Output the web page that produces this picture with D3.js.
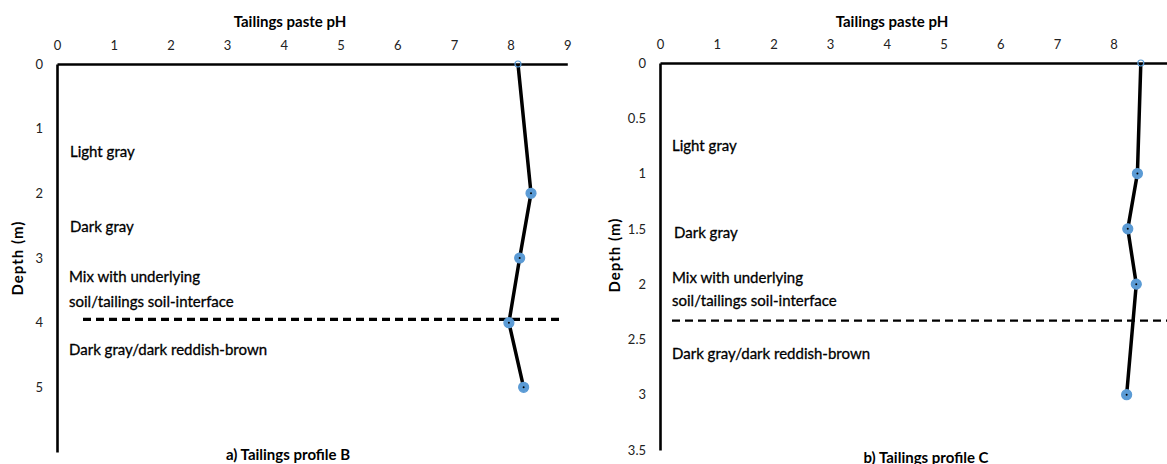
<!DOCTYPE html>
<html>
<head>
<meta charset="utf-8">
<script src="https://cdn.jsdelivr.net/npm/d3@7"></script>
<style>
  body { margin: 0; background: #fff; }
  text { font-family: Lato, "Open Sans", sans-serif; }
</style>
</head>
<body>
<div id="myDiv"></div>
<script>
// pH ticks shared by both panels
var phTicks = [0, 1, 2, 3, 4, 5, 6, 7, 8, 9];

// profile B
var depthB = [0, 2, 3, 4, 5];
var phB = [8.13, 8.36, 8.16, 7.97, 8.23];
var depthTicksB = [0, 1, 2, 3, 4, 5];
var interfaceB = 3.95;

// profile C
var depthC = [0, 1, 1.5, 2, 3];
var phC = [8.48, 8.42, 8.25, 8.4, 8.23];
var depthTicksC = [0, 0.5, 1, 1.5, 2, 2.5, 3, 3.5];
var interfaceC = 2.33;

var layerNames = ["Light gray", "Dark gray", "Mix with underlying", "soil/tailings soil-interface", "Dark gray/dark reddish-brown"];

var w = 1167;
var h = 464;

var svg = d3.select("#myDiv")
    .append("svg")
    .attr("width", w)
    .attr("height", h);

/*
  draws one profile panel
*/
function drawPanel(p) {
  var x = d3.scaleLinear().domain([0, 9]).range([p.left, p.left + 9 * 56.7]);
  var y = d3.scaleLinear().domain([0, p.maxDepth]).range([p.top, p.bottom]);
  var g = svg.append("g");

  // top axis
  var xAxis = g.append("g")
      .attr("transform", "translate(0," + p.top + ")")
      .call(d3.axisTop(x).tickValues(phTicks).tickFormat(d3.format("~g")).tickSize(0).tickPadding(14));
  xAxis.select(".domain").attr("stroke", "#000").attr("stroke-width", 2.6);
  xAxis.selectAll("text").attr("font-size", 13).attr("fill", "#222").style("font-family", "Lato");

  // left axis
  var yAxis = g.append("g")
      .attr("transform", "translate(" + p.left + ",0)")
      .call(d3.axisLeft(y).tickValues(p.depthTicks).tickFormat(d3.format("~g")).tickSize(0).tickPadding(14));
  yAxis.select(".domain").attr("stroke", "#000").attr("stroke-width", 2.6);
  yAxis.selectAll("text").attr("font-size", 13).attr("fill", "#222").style("font-family", "Lato");

  g.append("text")
      .attr("x", p.titleX)
      .attr("y", 27)
      .attr("text-anchor", "middle")
      .attr("font-size", 15)
      .attr("font-weight", "bold")
      .text("Tailings paste pH");

  g.append("text")
      .attr("transform", "translate(" + p.yTitleX + "," + p.yTitleY + ") rotate(-90)")
      .attr("text-anchor", "middle")
      .attr("font-size", 15)
      .attr("font-weight", "bold")
      .attr("letter-spacing", 1)
      .text("Depth (m)");

  // interface line
  g.append("line")
      .attr("x1", p.dashX1)
      .attr("x2", p.dashX2)
      .attr("y1", y(p.interfaceDepth))
      .attr("y2", y(p.interfaceDepth))
      .attr("stroke", "#000")
      .attr("stroke-width", p.dashW)
      .attr("stroke-dasharray", p.dash);

  // layer labels
  for (var i = 0; i < layerNames.length; i++) {
    g.append("text")
        .attr("x", p.labelX[i])
        .attr("y", p.labelY[i])
        .attr("font-size", 15)
        .attr("fill", "#000")
        .attr("stroke", "#000")
        .attr("stroke-width", 0.3)
        .text(layerNames[i]);
  }

  var pts = p.depth.map(function(d, i) { return {d: d, ph: p.ph[i]}; });

  var line = d3.line()
      .x(function(d) { return x(d.ph); })
      .y(function(d) { return y(d.d); });

  g.append("path")
      .datum(pts)
      .attr("d", line)
      .attr("fill", "none")
      .attr("stroke", "#000")
      .attr("stroke-width", 3.5);

  g.selectAll(".mk")
   .data(pts)
   .enter()
   .append("circle")
   .attr("cx", function(d) { return x(d.ph); })
   .attr("cy", function(d) { return y(d.d); })
   .attr("r", function(d, i) { return i == 0 ? 3 : 5; })
   .attr("fill", function(d, i) { return i == 0 ? "none" : "#5b9bd5"; })
   .attr("stroke", "#5b9bd5")
   .attr("stroke-width", 1.2);

  g.selectAll(".dot")
   .data(pts.slice(1))
   .enter()
   .append("circle")
   .attr("cx", function(d) { return x(d.ph); })
   .attr("cy", function(d) { return y(d.d); })
   .attr("r", 1)
   .attr("fill", "#000");

  g.append("text")
      .attr("x", p.captionX)
      .attr("y", p.captionY)
      .attr("text-anchor", "middle")
      .attr("font-size", 15)
      .attr("font-weight", "bold")
      .text(p.caption);
}

drawPanel({
  left: 57, top: 64, bottom: 452, maxDepth: 6,
  depth: depthB, ph: phB, depthTicks: depthTicksB,
  interfaceDepth: interfaceB, dashX1: 83, dashX2: 560, dashW: 3.2, dash: "8,5",
  titleX: 290, yTitleX: 23, yTitleY: 258,
  labelX: [70, 70, 69, 69, 69],
  labelY: [157, 232, 282, 307, 355],
  caption: "a) Tailings profile B", captionX: 288, captionY: 460
});

drawPanel({
  left: 660, top: 63, bottom: 450, maxDepth: 3.5,
  depth: depthC, ph: phC, depthTicks: depthTicksC,
  interfaceDepth: interfaceC, dashX1: 672, dashX2: 1167, dashW: 2.2, dash: "8,5",
  titleX: 892, yTitleX: 620, yTitleY: 255,
  labelX: [672, 674, 672, 672, 672],
  labelY: [151, 238, 283, 306, 359],
  caption: "b) Tailings profile C", captionX: 926, captionY: 463
});
</script>
</body>
</html>
